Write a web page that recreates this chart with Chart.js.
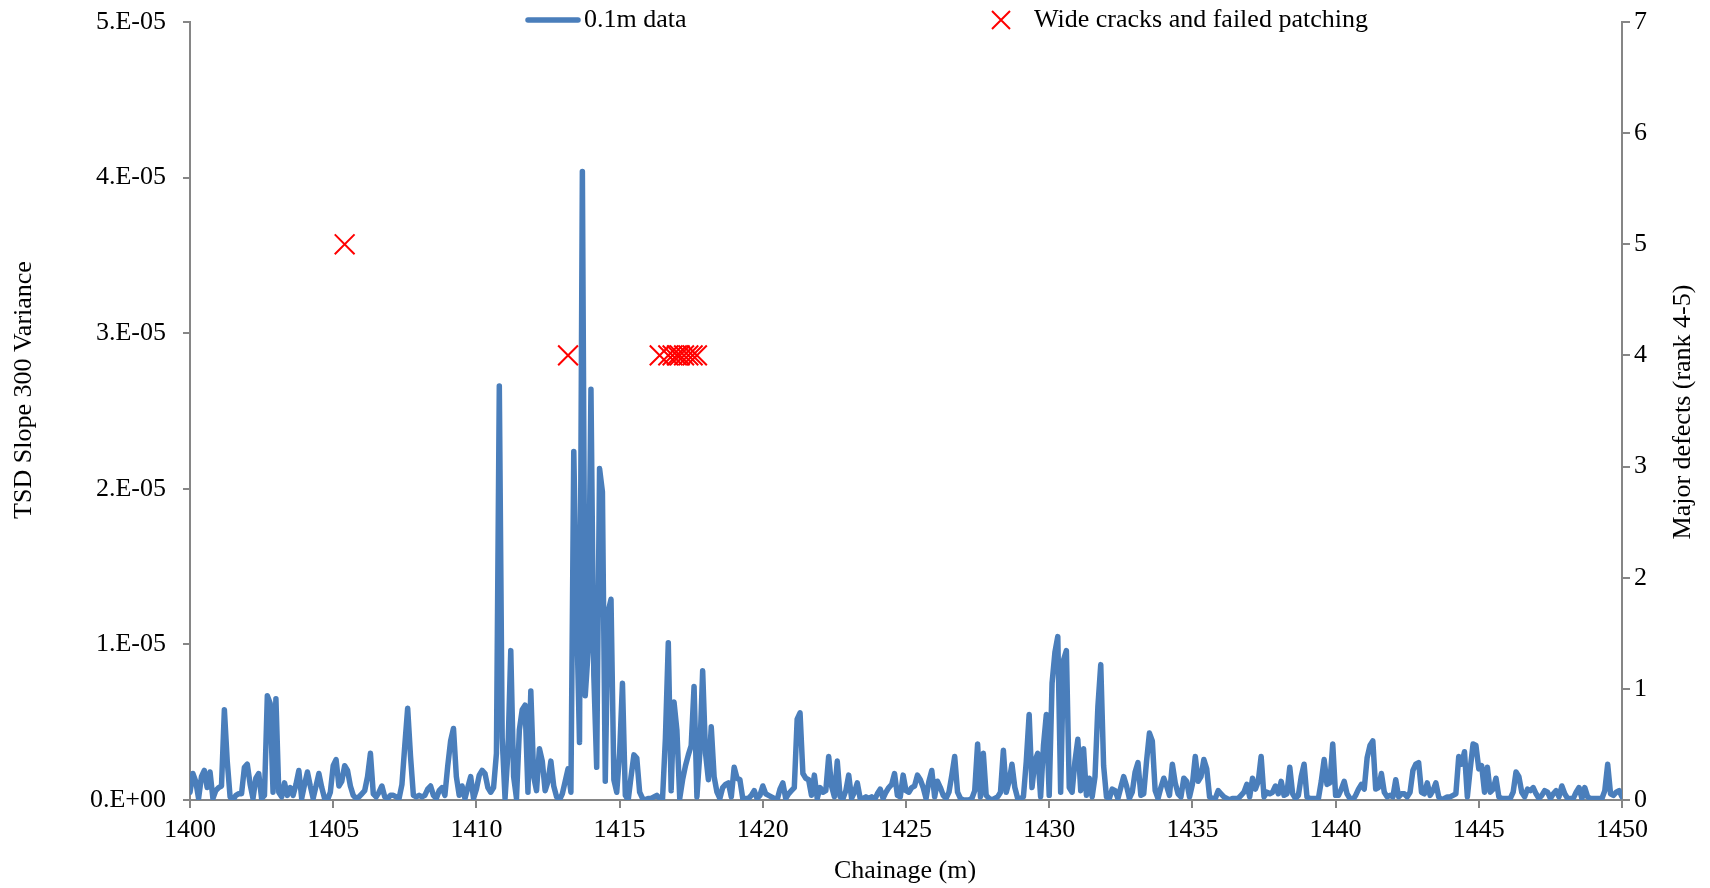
<!DOCTYPE html>
<html><head><meta charset="utf-8">
<script src="https://cdn.jsdelivr.net/npm/chart.js@4/dist/chart.umd.min.js"></script>
<style>html,body{margin:0;padding:0;background:#fff;}#wrap{width:1710px;height:888px;position:relative;}</style>
</head><body><div id="wrap"><canvas id="c" width="1710" height="888"></canvas></div>
<script>
// Chainage grid (0.1 m data from 1400 m)
const chainageStart = 1400;
const chainageStep = 0.1;
// TSD Slope 300 variance, in units of 1e-6
const varianceE6 = [
0.5,1.7,1.2,0.1,1.5,1.9,0.8,1.8,0.1,0.6,
0.8,0.9,5.8,2.5,0.2,0.0,0.3,0.4,0.4,2.1,
2.3,1.0,0.1,1.4,1.7,0.1,0.3,6.7,6.2,0.5,
6.5,0.5,0.2,1.1,0.3,0.8,0.3,1.0,1.9,0.1,
1.0,1.8,0.9,0.1,0.9,1.7,0.8,0.1,0.0,0.5,
2.2,2.6,0.9,1.2,2.2,1.9,0.9,0.3,0.1,0.2,
0.4,0.6,1.5,3.0,0.4,0.2,0.5,0.9,0.2,0.1,
0.3,0.3,0.2,0.1,1.0,3.5,5.9,2.8,0.3,0.2,
0.3,0.2,0.3,0.7,0.9,0.3,0.1,0.6,0.8,0.3,
2.2,3.8,4.6,1.5,0.3,0.9,0.1,0.8,1.5,0.1,
0.7,1.6,1.9,1.7,0.8,0.5,0.8,3.0,26.6,4.0,
0.1,3.0,9.6,1.5,0.1,4.5,5.8,6.1,0.5,7.0,
1.5,0.6,3.3,2.5,0.6,1.2,2.5,0.9,0.2,0.0,
0.4,1.2,2.0,0.5,22.4,12.0,3.7,40.4,6.7,9.5,
26.4,8.0,2.1,21.3,19.8,1.2,12.1,12.9,1.3,0.5,
3.0,7.5,0.3,0.0,1.5,2.9,2.7,0.5,0.1,0.0,
0.1,0.1,0.2,0.3,0.1,0.1,4.0,10.1,0.6,6.3,
4.5,0.1,1.3,2.2,2.9,3.5,7.3,0.2,3.0,8.3,
3.0,1.3,4.7,1.5,0.5,0.1,0.8,1.0,1.1,0.2,
2.1,1.4,1.3,0.1,0.1,0.1,0.3,0.6,0.1,0.3,
0.9,0.4,0.3,0.2,0.1,0.0,0.7,1.1,0.1,0.4,
0.6,0.8,5.2,5.6,1.7,1.4,1.3,0.3,1.6,0.1,
0.8,0.5,0.6,2.8,0.9,0.2,2.5,0.2,0.1,0.6,
1.6,0.1,0.5,1.1,0.1,0.1,0.2,0.1,0.2,0.0,
0.4,0.7,0.1,0.5,0.8,1.0,1.7,0.3,0.2,1.6,
0.6,0.5,0.8,0.9,1.6,1.3,0.8,0.1,1.2,1.9,
0.2,1.2,0.8,0.3,0.1,0.5,1.6,2.8,0.5,0.1,
0.0,0.0,0.0,0.1,0.6,3.6,0.2,3.0,0.3,0.1,
0.0,0.1,0.2,0.5,3.2,0.5,1.2,2.3,0.8,0.1,
0.1,0.2,2.5,5.5,0.8,2.5,3.0,0.2,3.5,5.5,
0.3,7.5,9.5,10.5,0.5,9.0,9.6,0.8,0.5,2.5,
3.9,0.6,3.3,0.3,1.4,0.2,1.5,6.0,8.7,2.2,
0.2,0.1,0.7,0.6,0.1,0.8,1.5,0.9,0.1,0.5,
1.8,2.4,0.3,0.4,2.5,4.3,3.8,0.6,0.1,0.8,
1.4,0.9,0.3,2.3,1.1,0.4,0.2,1.4,1.2,0.2,
1.0,2.8,1.2,1.5,2.6,2.0,0.2,0.1,0.1,0.6,
0.4,0.2,0.1,0.0,0.1,0.1,0.1,0.3,0.5,1.0,
0.2,1.4,0.7,1.2,2.8,0.2,0.5,0.4,0.5,0.9,
0.4,1.2,0.3,0.4,2.1,0.4,0.1,0.3,1.5,2.3,
0.2,0.1,0.1,0.1,0.1,1.2,2.6,1.0,1.1,3.6,
0.3,0.3,0.7,1.2,0.4,0.1,0.0,0.3,0.7,1.0,
0.7,2.7,3.5,3.8,0.7,0.8,1.7,0.5,0.2,0.3,
0.2,1.3,0.2,0.4,0.4,0.2,0.5,1.9,2.3,2.4,
0.5,0.4,1.1,0.3,0.6,1.1,0.2,0.0,0.1,0.2,
0.2,0.3,0.4,2.8,2.3,3.1,0.2,2.0,3.6,3.5,
2.0,2.2,0.5,2.1,0.5,0.7,1.4,0.2,0.1,0.1,
0.1,0.1,0.5,1.8,1.5,0.5,0.2,0.7,0.6,0.8,
0.4,0.1,0.3,0.6,0.5,0.1,0.4,0.6,0.2,0.9,
0.4,0.1,0.1,0.1,0.5,0.8,0.1,0.8,0.2,0.1,
0.1,0.1,0.1,0.1,0.6,2.3,0.4,0.3,0.5,0.6,
0.2
];
// Major defects (rank 4-5)
const defectChainage = [1405.4, 1413.2, 1416.4, 1416.7, 1416.85, 1417.0, 1417.1, 1417.25, 1417.4, 1417.55, 1417.7];
const defectRank     = [5, 4, 4, 4, 4, 4, 4, 4, 4, 4, 4];
// Axis ticks
const xTicks = [1400,1405,1410,1415,1420,1425,1430,1435,1440,1445,1450];
const yTickValuesE6 = [0,10,20,30,40,50];
const yTickLabels = ['0.E+00','1.E-05','2.E-05','3.E-05','4.E-05','5.E-05'];
const y2Ticks = [0,1,2,3,4,5,6,7];
// Labels
const seriesNames = ['0.1m data','Wide cracks and failed patching'];
const xTitle = 'Chainage (m)';
const yTitle = 'TSD Slope 300 Variance';
const y2Title = 'Major defects (rank 4-5)';

const FONT = "'Liberation Serif', 'Times New Roman', serif";
const BLUE = '#4A7EBB';
const RED = '#FF0000';
const AXIS = '#868686';

const linePoints = varianceE6.map((v, i) => ({x: chainageStart + i * chainageStep, y: v}));
const defectPoints = defectChainage.map((c, i) => ({x: c, y: defectRank[i]}));

const decor = {
  id: 'decor',
  afterDraw(chart) {
    const ctx = chart.ctx;
    ctx.save();
    ctx.fillStyle = '#000';
    ctx.font = '26px ' + FONT;
    ctx.textBaseline = 'middle';
    // legend
    ctx.strokeStyle = BLUE; ctx.lineWidth = 5.5; ctx.lineCap = 'round';
    ctx.beginPath(); ctx.moveTo(528, 20); ctx.lineTo(578, 20); ctx.stroke();
    ctx.textAlign = 'left';
    ctx.fillText(seriesNames[0], 584, 20);
    ctx.strokeStyle = RED; ctx.lineWidth = 2; ctx.lineCap = 'butt';
    ctx.beginPath();
    ctx.moveTo(992, 11); ctx.lineTo(1010, 29);
    ctx.moveTo(1010, 11); ctx.lineTo(992, 29);
    ctx.stroke();
    ctx.fillText(seriesNames[1], 1034, 20);
    // axis titles
    ctx.textAlign = 'center';
    ctx.fillText(xTitle, 905, 871);
    ctx.save(); ctx.translate(24, 390); ctx.rotate(-Math.PI/2); ctx.fillText(yTitle, 0, 0); ctx.restore();
    ctx.save(); ctx.translate(1683, 412); ctx.rotate(-Math.PI/2); ctx.fillText(y2Title, 0, 0); ctx.restore();
    ctx.restore();
  }
};

const noPad = s => { s.paddingTop = 0; s.paddingBottom = 0; };

new Chart(document.getElementById('c'), {
  data: {
    datasets: [
      {type: 'line', label: seriesNames[0], data: linePoints, yAxisID: 'y', xAxisID: 'x',
       borderColor: BLUE, backgroundColor: BLUE, borderWidth: 5.5, pointRadius: 0, tension: 0,
       borderJoinStyle: 'round', borderCapStyle: 'round', order: 2},
      {type: 'scatter', label: seriesNames[1], data: defectPoints, yAxisID: 'y2', xAxisID: 'x',
       pointStyle: 'crossRot', pointRadius: 14, borderColor: RED, backgroundColor: RED, borderWidth: 2, order: 1}
    ]
  },
  options: {
    responsive: false, animation: false, devicePixelRatio: 1,
    layout: {padding: {top: 22, left: 0, right: 0, bottom: 0}},
    plugins: {legend: {display: false}, tooltip: {enabled: false}},
    scales: {
      x: {type: 'linear', position: 'bottom', min: 1400, max: 1450,
        afterBuildTicks: s => { s.ticks = xTicks.map(v => ({value: v})); },
        afterFit: s => { s.height = 88; },
        grid: {display: true, drawOnChartArea: false, drawTicks: true, tickLength: 8, color: AXIS, lineWidth: 2},
        border: {display: true, color: AXIS, width: 2},
        ticks: {color: '#000', font: {family: FONT, size: 26}, padding: 7, maxRotation: 0, autoSkip: false,
          callback: v => String(v)}},
      y: {type: 'linear', position: 'left', min: 0, max: 50,
        afterBuildTicks: s => { s.ticks = yTickValuesE6.map(v => ({value: v})); },
        afterFit: s => { s.width = 190; noPad(s); },
        grid: {display: true, drawOnChartArea: false, drawTicks: true, tickLength: 7, color: AXIS, lineWidth: 2},
        border: {display: true, color: AXIS, width: 2},
        ticks: {color: '#000', font: {family: FONT, size: 26}, padding: 17, autoSkip: false,
          callback: (v) => yTickLabels[yTickValuesE6.indexOf(v)]}},
      y2: {type: 'linear', position: 'right', min: 0, max: 7,
        afterBuildTicks: s => { s.ticks = y2Ticks.map(v => ({value: v})); },
        afterFit: s => { s.width = 88; noPad(s); },
        grid: {display: true, drawOnChartArea: false, drawTicks: true, tickLength: 8, color: AXIS, lineWidth: 2},
        border: {display: true, color: AXIS, width: 2},
        ticks: {color: '#000', font: {family: FONT, size: 26}, padding: 4, autoSkip: false,
          callback: v => String(v)}}
    }
  },
  plugins: [decor]
});
</script></body></html>
